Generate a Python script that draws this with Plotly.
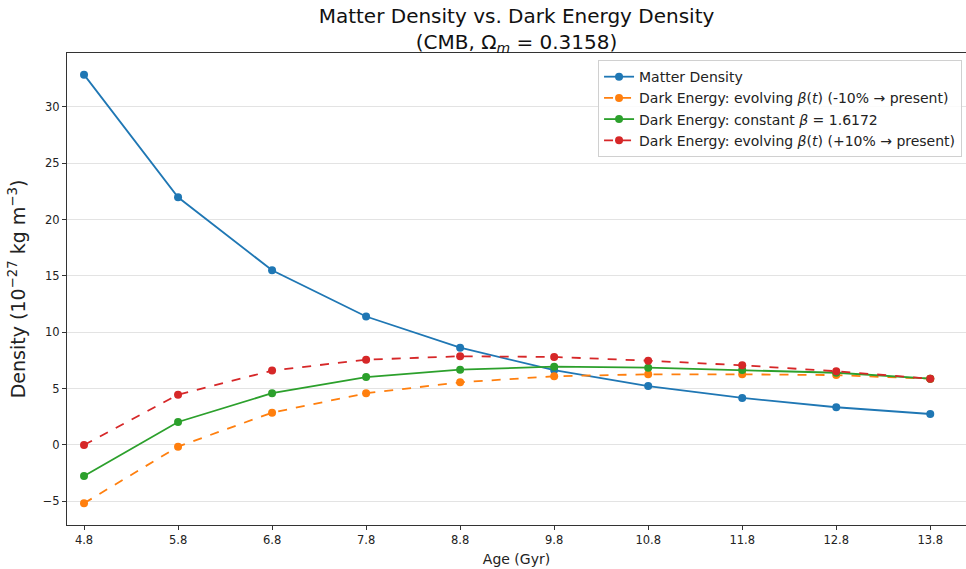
import plotly.graph_objects as go

age = [4.8, 5.8, 6.8, 7.8, 8.8, 9.8, 10.8, 11.8, 12.8, 13.8]
matter = [32.86, 21.98, 15.5, 11.4, 8.63, 6.65, 5.23, 4.17, 3.35, 2.75]
de_minus10 = [-5.17, -0.15, 2.87, 4.59, 5.56, 6.1, 6.27, 6.27, 6.2, 5.88]
de_const = [-2.75, 2.04, 4.6, 6.03, 6.68, 6.95, 6.86, 6.65, 6.41, 5.88]
de_plus10 = [0.0, 4.46, 6.6, 7.57, 7.87, 7.81, 7.48, 7.07, 6.54, 5.88]
xticks = ["4.8", "5.8", "6.8", "7.8", "8.8", "9.8", "10.8", "11.8", "12.8", "13.8"]
yticks = [-5, 0, 5, 10, 15, 20, 25, 30]

series = [
    ("Matter Density", matter, "#1f77b4", "solid"),
    ("Dark Energy: evolving <i>β</i>(<i>t</i>) (-10% → present)", de_minus10, "#ff7f0e", "dash"),
    ("Dark Energy: constant <i>β</i> = 1.6172", de_const, "#2ca02c", "solid"),
    ("Dark Energy: evolving <i>β</i>(<i>t</i>) (+10% → present)", de_plus10, "#d62728", "dash"),
]

fig = go.Figure()
for name, vals, col, dash in series:
    fig.add_trace(go.Scatter(
        x=age, y=vals, name=name, mode="lines+markers",
        line=dict(color=col, width=1.8, dash=dash),
        marker=dict(color=col, size=8),
    ))

font = "DejaVu Sans, Noto Sans, sans-serif"
fig.update_layout(
    width=966, height=569,
    margin=dict(l=67, r=0, t=53, b=44),
    paper_bgcolor="white", plot_bgcolor="white",
    font=dict(family=font, color="#222", size=11),
    title=dict(
        text="Matter Density vs. Dark Energy Density<br>(CMB, Ω<sub><i>m</i></sub> = 0.3158)",
        x=(67 + 966) / 2 / 966, xanchor="center", y=1 - 23 / 569, yanchor="middle",
        font=dict(size=20, color="#111"),
    ),
    legend=dict(
        x=0.9956, xanchor="right", y=0.985, yanchor="top",
        bgcolor="rgba(255,255,255,0.85)", bordercolor="#d0d0d0", borderwidth=1,
        font=dict(size=14, color="#222"),
        tracegroupgap=0, itemwidth=30,
    ),
    xaxis=dict(
        range=[4.619, 14.18], tickmode="array", tickvals=age, ticktext=xticks,
        showgrid=False, zeroline=False,
        showline=True, mirror=True, linecolor="#333", linewidth=1,
        ticks="outside", ticklen=4, tickcolor="#333",
        tickfont=dict(size=11.5),
        title=dict(text="Age (Gyr)", font=dict(size=14), standoff=8),
    ),
    yaxis=dict(
        range=[-7.1, 34.78], tickmode="array", tickvals=yticks,
        showgrid=True, gridcolor="#e3e3e3", gridwidth=1, zeroline=False,
        showline=True, mirror=True, linecolor="#333", linewidth=1,
        ticks="outside", ticklen=4, tickcolor="#333",
        tickfont=dict(size=11.5),
        title=dict(text="Density (10<sup>−27</sup> kg m<sup>−3</sup>)", font=dict(size=19), standoff=12),
    ),
)

fig.write_html(
    "out.html",
    config={"displayModeBar": False},
    post_script="document.body.style.margin='0';document.body.style.overflow='hidden';",
)
